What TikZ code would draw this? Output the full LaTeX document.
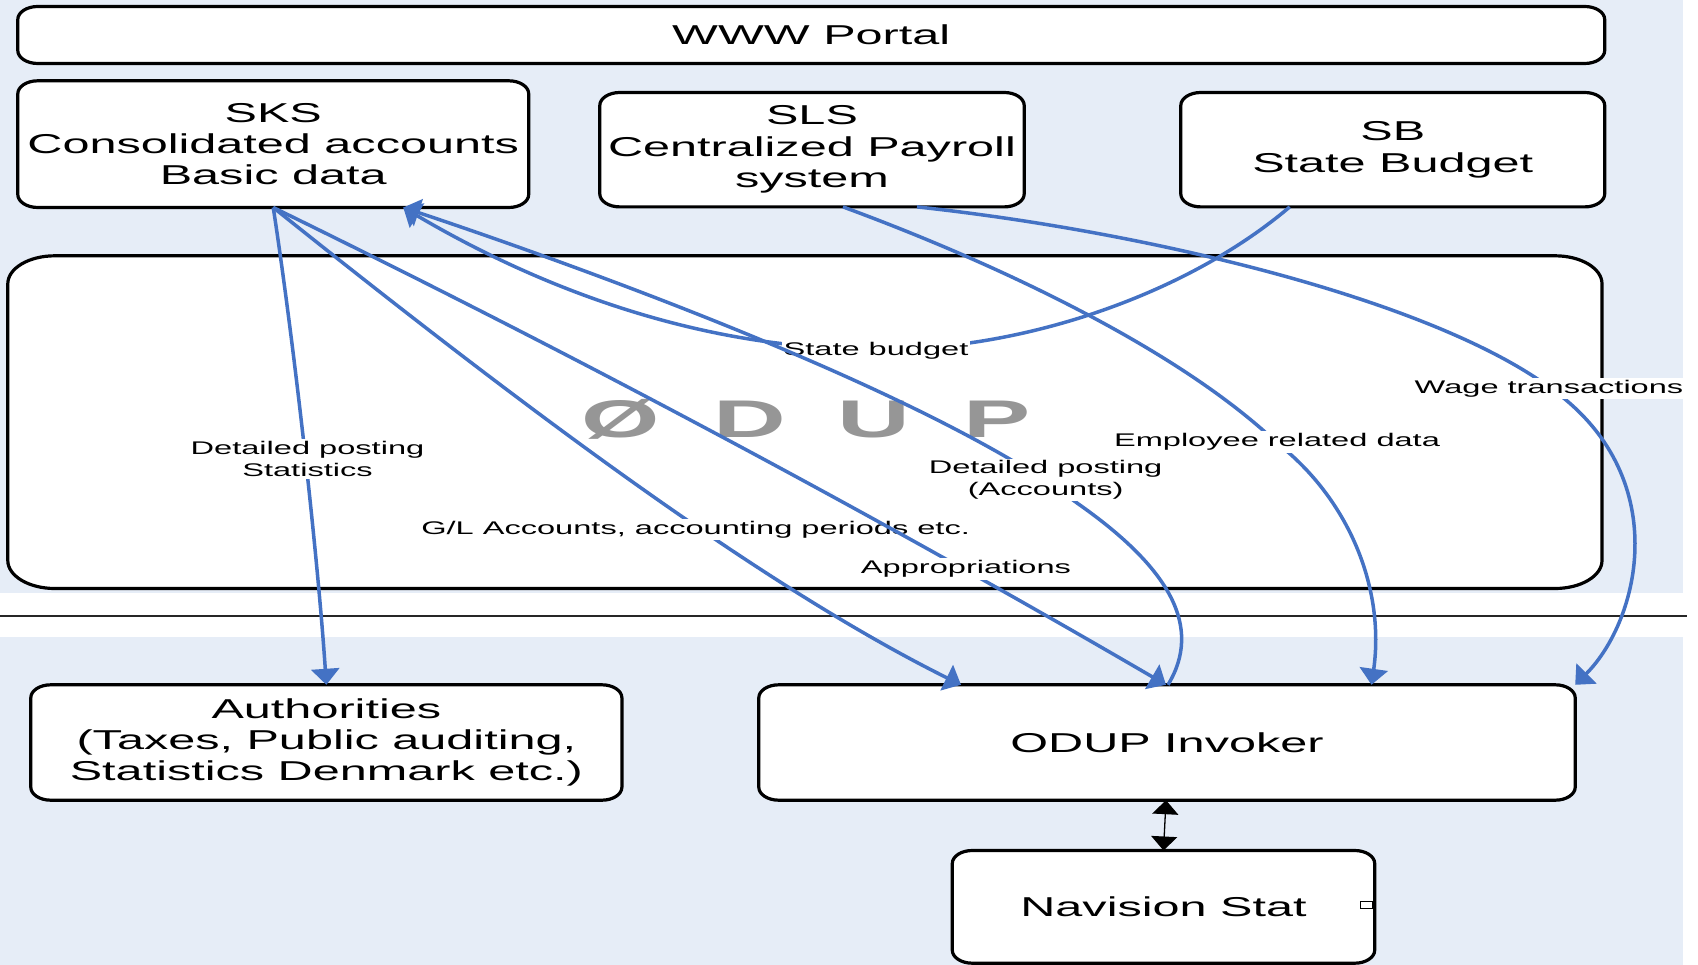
\documentclass[tikz,border=0pt]{standalone}
\usepackage{fontspec}
\setmainfont{Liberation Sans}
\newfontfamily\boxfont{Liberation Sans}[FakeStretch=1.78]
\newfontfamily\wmfont{Liberation Sans}[FakeStretch=1.9]
\usetikzlibrary{arrows.meta,calc}
\pgfdeclarelayer{bglayer}
\pgfdeclarelayer{boxlayer}
\pgfsetlayers{bglayer,boxlayer,main}
\definecolor{bgblue}{RGB}{230,237,247}
\definecolor{linkblue}{RGB}{68,114,196}
\definecolor{wmgray}{RGB}{150,150,150}
\tikzset{
  boxtext/.style={inner sep=0pt, align=center, font=\boxfont\fontsize{27.3pt}{31.4pt}\selectfont},
  boxline/.style={draw=black, line width=3.2pt, fill=white},
  lbl/.style={fill=white, inner sep=2pt, align=center, font=\boxfont\fontsize{18.3pt}{21.7pt}\selectfont},
  flow/.style={draw=linkblue, line width=3.5pt, -{Triangle[length=16pt,width=28pt]}},
  wm/.style={inner sep=0pt, anchor=base, text=wmgray, font=\wmfont\bfseries\fontsize{53pt}{60pt}\selectfont},
}
\newcommand{\erbox}[3]{%
  \path[boxline] ($(#1.north west)+(#2,0pt)$) -- ($(#1.north east)+(-#2,0pt)$)
    arc[start angle=90,end angle=0,x radius=#2,y radius=#3]
    -- ($(#1.south east)+(0pt,#3)$)
    arc[start angle=0,end angle=-90,x radius=#2,y radius=#3]
    -- ($(#1.south west)+(#2,0pt)$)
    arc[start angle=270,end angle=180,x radius=#2,y radius=#3]
    -- ($(#1.north west)+(0pt,-#3)$)
    arc[start angle=180,end angle=90,x radius=#2,y radius=#3]
    -- cycle;}
\begin{document}
\begin{tikzpicture}[x=1pt,y=1pt]
\useasboundingbox (0,0) rectangle (1698,-965);

% boxes (text)
\node[boxtext, minimum width=1586.5pt, minimum height=56.6pt] (www) at (811.25,-35) {WWW Portal};
\node[boxtext, minimum width=510.5pt, minimum height=126.3pt] (sks) at (273.25,-144.15) {SKS\\Consolidated accounts\\Basic data};
\node[boxtext, minimum width=424pt, minimum height=114pt] (sls) at (812,-149.7) {SLS\\Centralized Payroll\\system};
\node[boxtext, minimum width=423.5pt, minimum height=114pt] (sb) at (1392.75,-149.7) {SB\\State Budget};
\node[inner sep=0pt, minimum width=1593.8pt, minimum height=332.3pt] (odup) at (804.9,-422.15) {};
\node[boxtext, minimum width=590.7pt, minimum height=115pt] (auth) at (326.35,-742.5) {Authorities\\(Taxes, Public auditing,\\Statistics Denmark etc.)};
\node[boxtext, minimum width=816pt, minimum height=115pt] (inv) at (1167,-742.5) {ODUP Invoker};
\node[boxtext, minimum width=422pt, minimum height=112.3pt] (nav) at (1163.5,-906.85) {Navision Stat};
\node[draw=black, line width=1pt, fill=white, minimum width=12pt, minimum height=7pt, inner sep=0pt] (navport) at (1366,-904.5) {};

\begin{pgfonlayer}{bglayer}
  \fill[bgblue] (0,0) rectangle (1683,-593);
  \fill[bgblue] (0,-637) rectangle (1683,-965);
  \coordinate (sepL) at (0,-616);
  \coordinate (sepR) at (1687,-616);
  \draw[line width=1.8pt, black!85] (sepL) -- (sepR);
\end{pgfonlayer}

\begin{pgfonlayer}{boxlayer}
  \erbox{www}{20pt}{13pt}
  \erbox{sks}{20pt}{13pt}
  \erbox{sls}{20pt}{13pt}
  \erbox{sb}{20pt}{13pt}
  \erbox{odup}{47pt}{28pt}
  \erbox{auth}{20pt}{13pt}
  \erbox{inv}{20pt}{13pt}
  \erbox{nav}{20pt}{13pt}
\end{pgfonlayer}

% watermark
\node[wm] (wmO) at (621,-437.5) {Ø};
\node[wm] (wmD) at (750,-437.5) {D};
\node[wm] (wmU) at (874,-437.5) {U};
\node[wm] (wmP) at (997,-437.5) {P};

% connectors
\draw[flow] (sks.south) .. controls (295,-350) and (318,-560) .. (auth.north);
\node[lbl] (lstat) at (307.5,-459) {Detailed posting\\Statistics};

\draw[flow] (sks.south) .. controls (520,-405) and (760,-585) .. ([xshift=-206pt]inv.north);
\node[lbl] (lgl) at (695.6,-529.5) {G/L Accounts, accounting periods etc.};

\coordinate (sbmid) at (875,-349);
\draw[flow] ([xshift=-103pt]sb.south) .. controls (1180,-300) and (1010,-352) .. (sbmid) .. controls (720,-350) and (560,-300) .. ([xshift=130pt]sks.south);
\node[lbl] (lsb) at (876,-350.7) {State budget};

\draw[flow] (sks.south) .. controls (575,-355) and (873,-514) .. ([xshift=-1pt]inv.north);
\node[lbl] (lapp) at (966,-569) {Appropriations};

\coordinate (accmid) at (1077,-503);
\draw[flow] ([xshift=1pt]inv.north) .. controls (1203,-627) and (1170,-568) .. (accmid) .. controls (940,-400) and (620,-280) .. ([xshift=130pt]sks.south);
\node[lbl] (lacc) at (1045.6,-480) {Detailed posting\\(Accounts)};

\coordinate (empmid) at (1277,-443);
\draw[flow] ([xshift=31pt]sls.south) .. controls (993,-262) and (1177,-348) .. (empmid) .. controls (1350,-500) and (1385,-590) .. ([xshift=204.5pt]inv.north);
\node[lbl] (lemp) at (1277,-442) {Employee related data};

\coordinate (wagemid) at (1549,-387);
\draw[flow] ([xshift=105pt]sls.south) .. controls (1150,-232) and (1430,-300) .. (wagemid) .. controls (1675,-475) and (1640,-620) .. (inv.north east);
\node[lbl] (lwage) at (1549,-388.5) {Wage transactions};

\draw[black, line width=1.3pt, {Triangle[length=14pt,width=26pt]}-{Triangle[length=14pt,width=26pt]}] ([xshift=-1pt]inv.south) -- (nav.north);
\end{tikzpicture}
\end{document}
